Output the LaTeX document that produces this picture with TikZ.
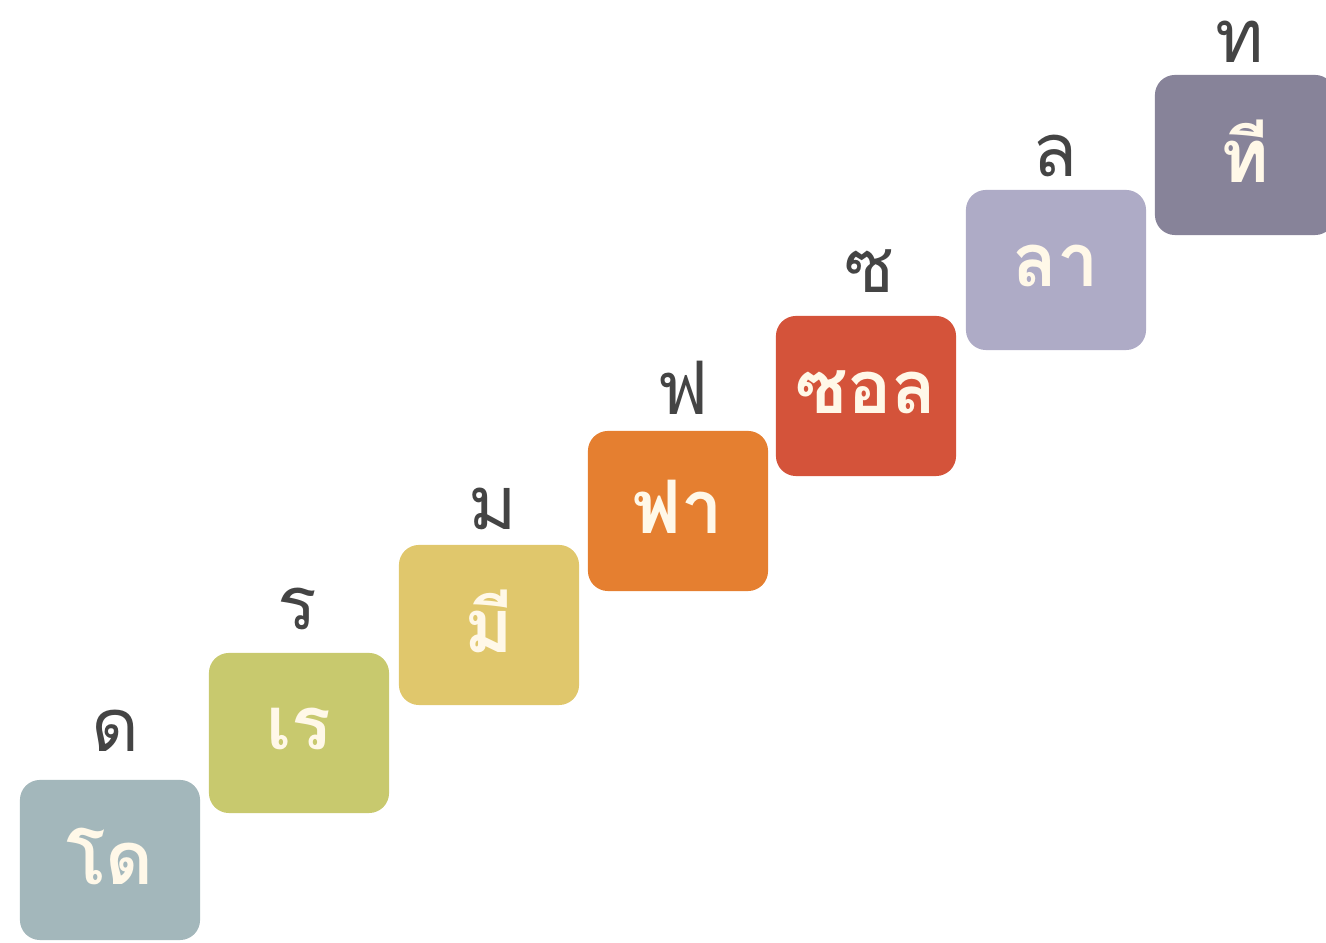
\documentclass[tikz,border=0pt]{standalone}
\usepackage{fontspec}
\newfontfamily\thaifont[Script=Thai]{Loma}
\usepackage{xcolor}
\usepackage{tikz}

\definecolor{noteDo}{HTML}{A3B7BB}
\definecolor{noteRe}{HTML}{C8C96E}
\definecolor{noteMi}{HTML}{E0C76C}
\definecolor{noteFa}{HTML}{E57F30}
\definecolor{noteSol}{HTML}{D4533A}
\definecolor{noteLa}{HTML}{AEABC6}
\definecolor{noteTi}{HTML}{878399}
\definecolor{letterGray}{HTML}{444444}
\definecolor{sylCream}{HTML}{FFF8E8}

\tikzset{
    notebox/.style={rounded corners=0.2cm, minimum width=1.8cm, minimum height=1.6cm,
        inner sep=0pt, text=sylCream, font=\thaifont\fontsize{21}{25}\selectfont\bfseries},
    letter/.style={anchor=base, inner sep=0pt, text=letterGray,
        font=\thaifont\fontsize{21}{25}\selectfont}
}

\begin{document}
\begin{tikzpicture}[x=0.01cm, y=-0.01cm]
    \useasboundingbox (0,0) rectangle (1326,943);
    \foreach \syl/\lab/\col/\x/\y/\lx/\ly[count=\i] in {
            โด/ด/noteDo/110/860/115/752,
            เร/ร/noteRe/299/733/297/630,
            มี/ม/noteMi/489/625/493/530,
            ฟา/ฟ/noteFa/678/511/683/415,
            ซอล/ซ/noteSol/866/396/870/293,
            ลา/ล/noteLa/1056/270/1055/177,
            ที/ท/noteTi/1245/155/1240/63} {
        \node[notebox, fill=\col] (box\i) at (\x, \y) {\raisebox{0.08cm}{\syl}};
        \node[letter] (lbl\i) at (\lx, \ly) {\lab};
    }
\end{tikzpicture}
\end{document}
